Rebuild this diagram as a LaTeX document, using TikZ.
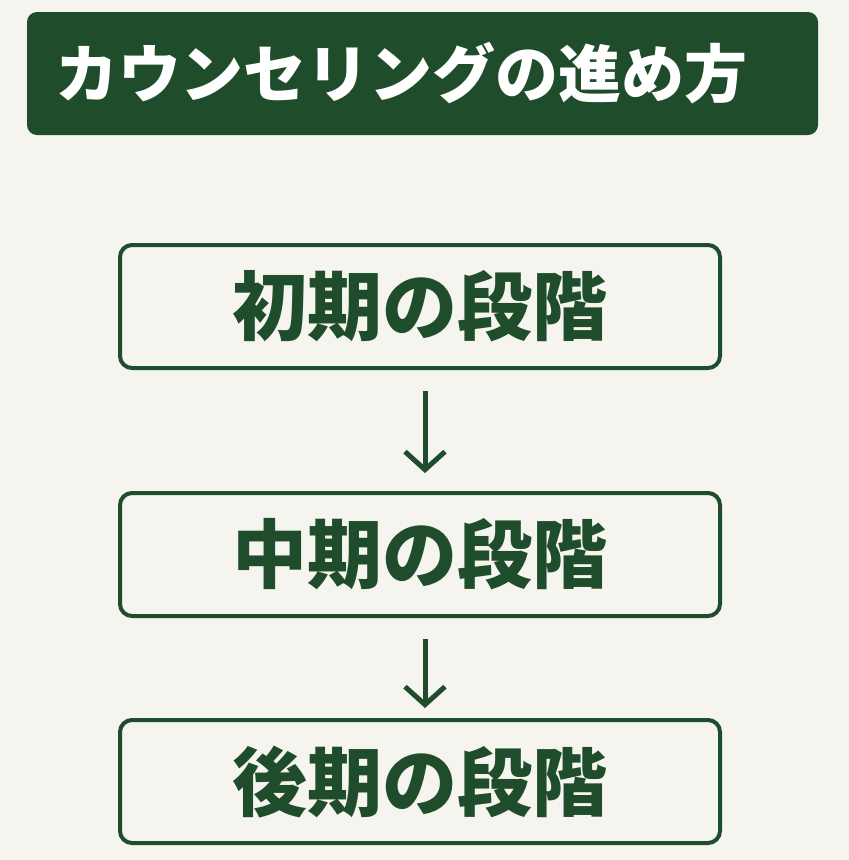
\documentclass[tikz,border=0pt]{standalone}
\usepackage{fontspec}
\newfontfamily\cjk{Noto Sans CJK JP}
\usetikzlibrary{positioning, arrows.meta}
\definecolor{deepgreen}{HTML}{1F4D2B}
\definecolor{paper}{HTML}{F5F4EE}
\tikzset{
  font=\cjk\bfseries,
  titlebox/.style = {
    fill=deepgreen,
    rounded corners=10pt,
    text=white,
    minimum width=791pt,
    minimum height=123pt,
    text width=735pt,
    align=left,
    font=\cjk\bfseries\fontsize{63}{63}\selectfont
  },
  stagebox/.style = {
    draw=deepgreen,
    line width=4pt,
    rounded corners=12pt,
    fill=paper,
    text=deepgreen,
    minimum width=600pt,
    minimum height=123pt,
    font=\cjk\bfseries\fontsize{75}{75}\selectfont
  },
  flow/.style = {
    draw=deepgreen,
    line width=5pt,
    -{Straight Barb[length=18pt,width=40pt,line width=5pt]}
  }
}
\begin{document}
\begin{tikzpicture}[x=1pt,y=1pt]
  \fill[paper] (0,0) rectangle (849,-860);
  \useasboundingbox (0,0) rectangle (849,-860);

  \node[titlebox] (title) at (422.5,-73.5) {カウンセリングの進め方};

  \node[stagebox] (early) at (420,-306.5) {初期の段階};
  \node[stagebox, below=121pt of early] (middle) {中期の段階};
  \node[stagebox, below=100pt of middle] (late) {後期の段階};

  \draw[flow] ([xshift=5pt,yshift=-21pt]early.south) -- ([xshift=5pt,yshift=18pt]middle.north);
  \draw[flow] ([xshift=5pt,yshift=-21pt]middle.south) -- ([xshift=5pt,yshift=10pt]late.north);
\end{tikzpicture}
\end{document}
